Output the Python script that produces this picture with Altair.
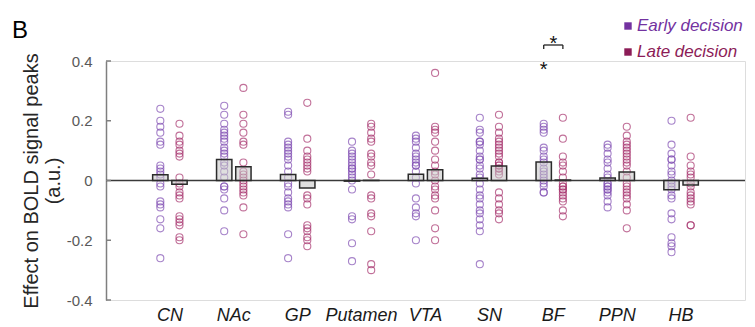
import altair as alt
import pandas as pd

# ---------------- data ----------------
regions = ["CN", "NAc", "GP", "Putamen", "VTA", "SN", "BF", "PPN", "HB"]
groups = ["Early decision", "Late decision"]

cn_early = [0.24, 0.20, 0.18, 0.16, 0.13, 0.12, 0.05, 0.04, 0.03, 0.02, 0.01, -0.01, -0.02, -0.07, -0.08, -0.09, -0.13, -0.16, -0.26]
cn_late = [0.19, 0.15, 0.13, 0.12, 0.10, 0.09, 0.08, 0.01, -0.01, -0.02, -0.04, -0.05, -0.06, -0.12, -0.13, -0.14, -0.15, -0.19, -0.20]
nac_early = [0.25, 0.22, 0.19, 0.17, 0.16, 0.15, 0.14, 0.13, 0.11, 0.10, 0.09, 0.08, 0.06, 0.05, 0.03, 0.01, -0.02, -0.02, -0.03, -0.06, -0.10, -0.17]
nac_late = [0.31, 0.22, 0.19, 0.16, 0.13, 0.12, 0.06, 0.03, 0.02, 0.01, 0.00, -0.01, -0.02, -0.03, -0.04, -0.05, -0.09, -0.18]
gp_early = [0.23, 0.22, 0.13, 0.12, 0.11, 0.10, 0.09, 0.08, 0.07, 0.05, 0.03, 0.01, -0.01, -0.02, -0.04, -0.06, -0.07, -0.08, -0.09, -0.18, -0.26]
gp_late = [0.26, 0.14, 0.10, 0.08, 0.07, 0.06, 0.05, 0.04, 0.03, -0.05, -0.06, -0.08, -0.15, -0.16, -0.17, -0.19, -0.20, -0.22]
putamen_early = [0.13, 0.10, 0.09, 0.08, 0.07, 0.06, 0.05, 0.04, 0.04, 0.03, 0.02, 0.01, 0.00, -0.03, -0.12, -0.13, -0.21, -0.27]
putamen_late = [0.19, 0.18, 0.16, 0.14, 0.13, 0.09, 0.08, 0.06, 0.05, 0.02, -0.05, -0.06, -0.11, -0.12, -0.17, -0.28, -0.30]
vta_early = [0.15, 0.14, 0.13, 0.11, 0.09, 0.08, 0.07, 0.06, 0.05, 0.05, 0.03, 0.01, -0.01, -0.06, -0.09, -0.11, -0.12, -0.20]
vta_late = [0.36, 0.18, 0.17, 0.16, 0.13, 0.10, 0.07, 0.05, 0.03, 0.02, 0.00, -0.02, -0.03, -0.05, -0.06, -0.10, -0.16, -0.20]
sn_early = [0.21, 0.17, 0.16, 0.13, 0.13, 0.12, 0.10, 0.08, 0.07, 0.07, 0.05, 0.04, 0.02, 0.01, -0.01, -0.03, -0.05, -0.06, -0.08, -0.10, -0.11, -0.13, -0.15, -0.17, -0.28]
sn_late = [0.22, 0.18, 0.16, 0.14, 0.13, 0.12, 0.11, 0.10, 0.09, 0.08, 0.06, 0.06, 0.05, 0.05, 0.04, 0.04, 0.03, 0.02, -0.04, -0.06, -0.08, -0.10, -0.11, -0.13]
bf_early = [0.19, 0.18, 0.17, 0.16, 0.11, 0.10, 0.08, 0.07, 0.06, 0.04, 0.03, 0.02, 0.01, 0.00, -0.01, -0.02, -0.04, -0.04]
bf_late = [0.21, 0.14, 0.08, 0.06, 0.05, 0.03, 0.01, -0.01, -0.02, -0.02, -0.03, -0.03, -0.04, -0.05, -0.06, -0.07, -0.10, -0.12]
ppn_early = [0.12, 0.11, 0.09, 0.07, 0.06, 0.04, 0.02, 0.01, -0.01, -0.01, -0.02, -0.02, -0.03, -0.03, -0.04, -0.05, -0.07, -0.09]
ppn_late = [0.18, 0.15, 0.13, 0.12, 0.11, 0.10, 0.09, 0.08, 0.07, 0.06, 0.05, 0.03, 0.01, -0.01, -0.02, -0.03, -0.04, -0.05, -0.06, -0.08, -0.10, -0.16]
hb_early = [0.20, 0.12, 0.09, 0.07, 0.07, 0.05, 0.03, 0.02, 0.00, -0.01, -0.02, -0.03, -0.05, -0.06, -0.11, -0.13, -0.19, -0.21, -0.22, -0.24]
hb_late = [0.21, 0.08, 0.05, 0.03, 0.02, 0.01, -0.01, -0.02, -0.04, -0.05, -0.06, -0.07, -0.08, -0.15, -0.15]

early_values = [cn_early, nac_early, gp_early, putamen_early, vta_early, sn_early, bf_early, ppn_early, hb_early]
late_values = [cn_late, nac_late, gp_late, putamen_late, vta_late, sn_late, bf_late, ppn_late, hb_late]

y_ticks = [-0.4, -0.2, 0, 0.2, 0.4]
sig_region = ["BF"]
y_title = ["Effect on BOLD signal peaks", "(a.u.)"]
panel_label = "B"

rows = []
for r, e, l in zip(regions, early_values, late_values):
    rows += [{"region": r, "group": groups[0], "value": v} for v in e]
    rows += [{"region": r, "group": groups[1], "value": v} for v in l]
df = pd.DataFrame(rows)

# ---------------- styling ----------------
W, H = 639, 239
FONT = "Liberation Sans"
point_colors = ["#8250b4", "#a8356f"]
legend_colors = ["#7332a0", "#8c1c57"]

xscale = alt.Scale(domain=regions, paddingInner=0.4, paddingOuter=0.7)
oscale = alt.Scale(domain=groups, paddingInner=0.2, paddingOuter=0.1)
yscale = alt.Scale(domain=[-0.4, 0.4], nice=False, zero=False)

x_axis = alt.Axis(title=None, domain=False, ticks=False, labelFontSize=18,
                  labelFontStyle="italic", labelColor="#1a1a1a", labelPadding=6,
                  labelAngle=0, labelFont=FONT)
y_axis = alt.Axis(values=y_ticks, ticks=False, grid=False,
                  domainColor="#7f7f7f", domainWidth=1.5,
                  labelFontSize=15, labelColor="#595959", labelPadding=14, labelFont=FONT,
                  labelExpr="datum.value == 0 ? '0' : (datum.value < 0 ? '-' : '') + format(abs(datum.value), '.1f')",
                  titleFontSize=20, titleFontWeight="normal", titleColor="#262626",
                  titleFont=FONT, titleAngle=270, titleX=-75, titleY=H / 2,
                  titleAlign="center", titleBaseline="middle", titleLineHeight=22)


def X(**kw):
    return alt.X("region:N", scale=xscale, sort=regions, axis=x_axis, **kw)


def Y(field):
    return alt.Y(field, scale=yscale, axis=y_axis, title=y_title)


xo = alt.XOffset("group:N", scale=oscale, sort=groups)

zero_line = alt.Chart(pd.DataFrame({"y": [0]})).mark_rule(
    color="#3a3a3a", strokeWidth=1.3).encode(y=Y("y:Q"))

in_ticks = alt.Chart(pd.DataFrame({"t": y_ticks})).mark_rule(
    color="#7f7f7f", strokeWidth=1.5).encode(y=Y("t:Q"), x=alt.value(0), x2=alt.value(5))

points = alt.Chart(df).mark_point(shape="circle", filled=False, size=50,
                                  strokeWidth=1.1, opacity=0.7).encode(
    x=X(), xOffset=xo, y=Y("value:Q"),
    color=alt.Color("group:N", scale=alt.Scale(domain=groups, range=point_colors), legend=None))

bars = alt.Chart(df).mark_bar(fill="#c4c4c4", fillOpacity=0.55, stroke="#2b2b2b",
                              strokeWidth=1.5).encode(
    x=X(), xOffset=xo, y=Y("mean(value):Q"))

# significance annotations (BF)
sig_df = pd.DataFrame({"region": sig_region})
sig_pair = pd.DataFrame({"region": sig_region * 2, "group": groups})
sig_early = pd.DataFrame({"region": sig_region, "group": [groups[0]]})

bracket_h = alt.Chart(sig_df).mark_rule(color="#222", strokeWidth=1.3).encode(
    x=X(bandPosition=0.25), x2=alt.X2("region", bandPosition=0.75), y=alt.value(-16))
bracket_v = alt.Chart(sig_pair).mark_rule(color="#222", strokeWidth=1.3).encode(
    x=X(), xOffset=xo, y=alt.value(-16), y2=alt.value(-12))
star_pair = alt.Chart(sig_df).mark_text(text="*", fontSize=20, font=FONT, color="#111",
                                        baseline="alphabetic").encode(
    x=X(), y=alt.value(-11))
star_early = alt.Chart(sig_early).mark_text(text="*", fontSize=20, font=FONT, color="#111",
                                            baseline="alphabetic").encode(
    x=X(), xOffset=xo, y=alt.value(15))

# legend
legend_layers = []
for i, g in enumerate(groups):
    gdf = pd.DataFrame({"group": [g]})
    legend_layers.append(alt.Chart(gdf).mark_square(size=55, color=legend_colors[i], opacity=1).encode(
        x=alt.value(522), y=alt.value(-35 + 26 * i)))
    legend_layers.append(alt.Chart(gdf).mark_text(align="left", baseline="middle", fontSize=17,
                                                  fontStyle="italic", font=FONT,
                                                  color=legend_colors[i]).encode(
        x=alt.value(531), y=alt.value(-35 + 26 * i), text="group:N"))

label_b = alt.Chart(pd.DataFrame({"t": [panel_label]})).mark_text(
    fontSize=24, font=FONT, color="#000", align="center", baseline="middle").encode(
    x=alt.value(-86), y=alt.value(-30), text="t:N")

chart = alt.layer(
    zero_line, points, bars, in_ticks, bracket_h, bracket_v, star_pair, star_early,
    *legend_layers, label_b
).properties(
    width=W, height=H,
    autosize=alt.AutoSizeParams(type="none"),
    padding={"left": 98, "top": 53, "right": 2, "bottom": 27},
).configure_view(stroke=None).configure(background="white")

chart.save("out.html", embed_options={"renderer": "svg", "actions": False})
